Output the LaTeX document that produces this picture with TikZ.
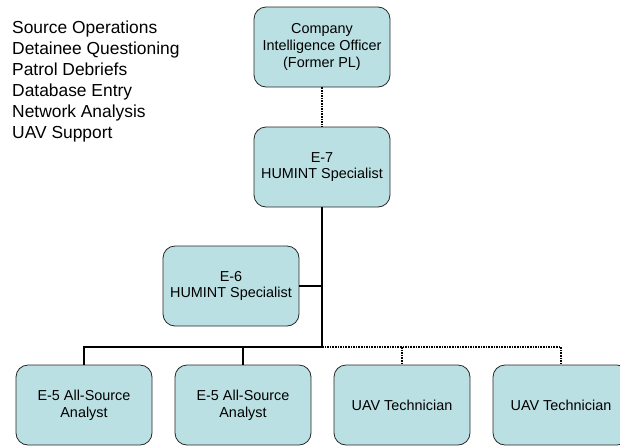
\documentclass[tikz,border=0pt]{standalone}
\usepackage{fontspec}
\setmainfont{Liberation Sans}
\usetikzlibrary{calc}
\definecolor{boxfill}{HTML}{BBE0E3}

\begin{document}
\begin{tikzpicture}[x=1pt, y=-1pt,
                    post/.style={draw=black!85, fill=boxfill, rounded corners=12pt, line width=0.8pt, align=center, minimum width=136pt, minimum height=80pt, font=\fontsize{14.4}{16.6}\selectfont},
                    link/.style={line width=1.6pt},
                    dotlink/.style={line width=1.6pt, densely dotted}]
                    \useasboundingbox (0,0) rectangle (620,445);
                    \node[anchor=north west, inner sep=0pt, align=left, font=\fontsize{17.4}{21}\selectfont] (tasks) at (12,21) {Source Operations\\Detainee Questioning\\Patrol Debriefs\\Database Entry\\Network Analysis\\UAV Support};
                    \node[post] (cio) at (322,47) {Company\\Intelligence Officer\\(Former PL)};
                    \node[post] (e7) at (322,167) {E-7\\HUMINT Specialist};
                    \draw[dotlink] (cio) -- (e7);
                    \node[post] (e6) at (231,286) {E-6\\HUMINT Specialist};
                    \coordinate (bus) at (322,347);
                    \draw[link] (e7) -- (bus);
                    \draw[link] (e6.east) -- (e6.east -| bus);
                    \node[post] (ana1) at (84,405) {E-5 All-Source\\Analyst};
                    \node[post] (ana2) at (243,405) {E-5 All-Source\\Analyst};
                    \node[post] (uav1) at (402,405) {UAV Technician};
                    \node[post] (uav2) at (561,405) {UAV Technician};
                    \draw[link] (bus) -| (ana1.north);
                    \draw[link] (bus -| ana2) -- (ana2.north);
                    \draw[dotlink] (bus) -| (uav2.north);
                    \draw[dotlink] (bus -| uav1) -- (uav1.north);
                \end{tikzpicture}
\end{document}
